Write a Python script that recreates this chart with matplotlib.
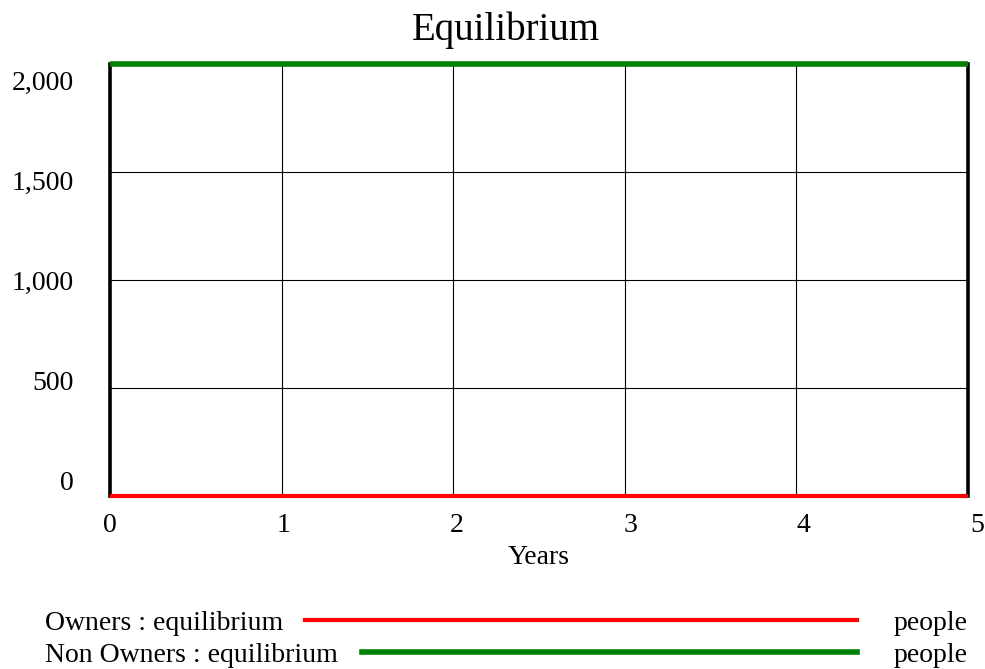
# Vensim style run chart: Owners and Non Owners at equilibrium

import numpy as np
import matplotlib.pyplot as plt
from matplotlib.lines import Line2D

plt.rcParams['font.family'] = ['Liberation Serif', 'DejaVu Serif']

# data
years = [0, 1, 2, 3, 4, 5]
owners = [0, 0, 0, 0, 0, 0]
non_owners = [2000, 2000, 2000, 2000, 2000, 2000]
y_ticks = [0, 500, 1000, 1500, 2000]
x_ticks = [0, 1, 2, 3, 4, 5]
series_names = ['Owners : equilibrium', 'Non Owners : equilibrium']
series_units = ['people', 'people']
series_colors = ['#ff0000', '#008000']
series_widths = [3.0, 4.0]

W, H = 985, 669
fig = plt.figure(figsize=(W / 100, H / 100), dpi=100)
ax = fig.add_axes([110 / W, 1 - 496 / H, 858 / W, 432 / H])

ax.set_xlim(0, 5)
ax.set_ylim(0, 2000)
ax.set_xticks(x_ticks)
ax.set_yticks(y_ticks)
ax.tick_params(length=0, labelleft=False, labelbottom=False)
ax.grid(True, color='black', lw=0.8)

for side in ['top', 'bottom']:
    ax.spines[side].set_visible(False)
for side in ['left', 'right']:
    ax.spines[side].set_linewidth(2.6)
    ax.spines[side].set_color('black')

ax.plot(years, owners, color=series_colors[0], lw=series_widths[0], clip_on=False,
        zorder=5, solid_capstyle='butt')
ax.plot(years, non_owners, color=series_colors[1], lw=series_widths[1], clip_on=False,
        zorder=5, solid_capstyle='butt')

# tick labels placed the way the original tool spaces them
for v in y_ticks:
    ax.text(-36 / 858, (13 + 0.2 * v) / 432, f'{v:,}', transform=ax.transAxes,
            ha='right', va='center', fontsize=20)
for v in x_ticks:
    ax.text(v * 173.4 / 858, -29 / 432, str(v), transform=ax.transAxes,
            ha='center', va='center', fontsize=20)
ax.text(0.5, -61 / 432, 'Years', transform=ax.transAxes,
        ha='center', va='center', fontsize=20)

fig.text(506 / W, 1 - 30 / H, 'Equilibrium', ha='center', va='center', fontsize=28)

# legend rows at the bottom
row_y = [620, 652]
line_start = [305, 362]
for i in range(2):
    yy = 1 - row_y[i] / H
    ty = 1 - (row_y[i] + 3) / H
    fig.text(45 / W, ty, series_names[i], ha='left', va='center', fontsize=20)
    fig.text(968 / W, ty, series_units[i], ha='right', va='center', fontsize=20)
    fig.add_artist(Line2D([line_start[i] / W, 857 / W], [yy, yy],
                          color=series_colors[i], lw=series_widths[i],
                          transform=fig.transFigure))

fig.savefig('out.png', dpi=100)
